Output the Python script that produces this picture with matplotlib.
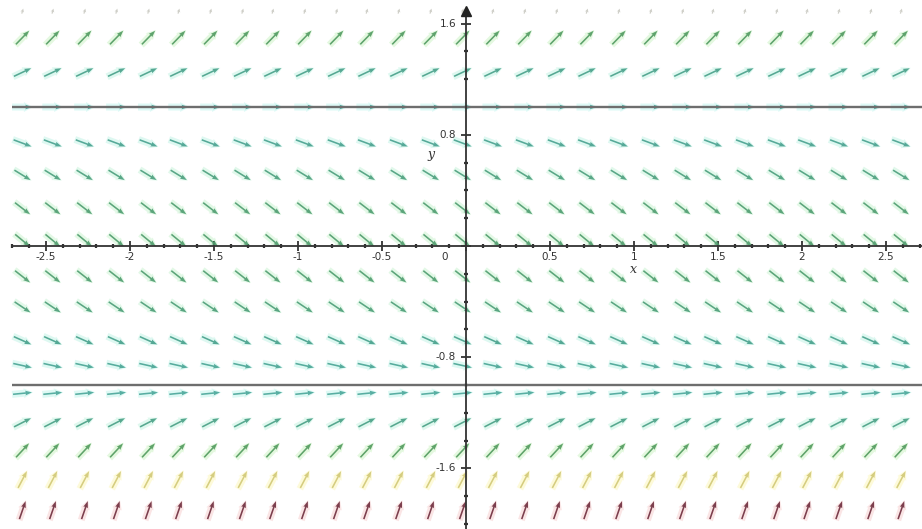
import numpy as np
import matplotlib.pyplot as plt
from matplotlib.colors import LinearSegmentedColormap

# slope field: arrow columns (x), arrow rows (y) and the slope read for each row
col_x = [-2.64, -2.46, -2.27, -2.08, -1.89, -1.71, -1.52, -1.33, -1.15, -0.96,
         -0.77, -0.59, -0.40, -0.21, -0.02, 0.16, 0.35, 0.54, 0.72, 0.91,
         1.10, 1.29, 1.47, 1.66, 1.85, 2.03, 2.22, 2.41, 2.59]
row_y = [1.50, 1.25, 1.00, 0.74, 0.51, 0.27, 0.04, -0.22, -0.44, -0.68,
         -0.86, -1.06, -1.27, -1.47, -1.68, -1.90]
row_slope = [1.24, 0.57, 0.0, -0.45, -0.74, -0.93, -1.0, -0.95, -0.81, -0.54,
             -0.27, 0.12, 0.62, 1.3, 2.3, 3.5]
top_row_y = 1.69  # clipped row at the top edge, only the heads show

# equilibrium solutions
eq_y = [1.0, -1.0]

x_ticks = [-2.5, -2, -1.5, -1, -0.5, 0.5, 1, 1.5, 2, 2.5]
x_tick_labels = ["-2.5", "-2", "-1.5", "-1", "-0.5", "0.5", "1", "1.5", "2", "2.5"]
y_ticks = [1.6, 0.8, -0.8, -1.6]
y_tick_labels = ["1.6", "0.8", "-0.8", "-1.6"]

xmin, xmax = -2.774, 2.714
ymin, ymax = -2.036, 1.770

fig = plt.figure(figsize=(9.22, 5.29), dpi=100)
ax = fig.add_axes([0, 0, 1, 1])
ax.set_xlim(xmin, xmax)
ax.set_ylim(ymin, ymax)

# pixels per data unit, so arrows get the right on-screen angle
kx = 922 / (xmax - xmin)
ky = 529 / (ymax - ymin)

X, Y = np.meshgrid(col_x, row_y)
S = np.repeat(np.array(row_slope)[:, None], len(col_x), axis=1)
theta = np.arctan(S * ky / kx)
U = np.cos(theta)
V = np.sin(theta)
mag = np.clip(np.abs(S) / 3.5, 0, 1)

core_cmap = LinearSegmentedColormap.from_list("core", [
    (0.0, "#4aa89c"), (0.15, "#46a08c"), (0.25, "#4c9c72"),
    (0.35, "#509a60"), (0.45, "#559a52"), (0.65, "#d4cc78"), (1.0, "#6e2c3c")])
halo_cmap = LinearSegmentedColormap.from_list("halo", [
    (0.0, "#c8f6f0"), (0.15, "#c8f4e8"), (0.25, "#d0f4d8"),
    (0.35, "#d2f4cc"), (0.45, "#d4f4c4"), (0.65, "#fcf8c0"), (1.0, "#f8d4d4")])

# soft halo behind each arrow, then the arrow itself
ax.quiver(X, Y, U, V, mag, cmap=halo_cmap, clim=(0, 1), angles="uv",
          scale_units="dots", scale=1 / 21, pivot="middle", units="dots",
          width=7, headwidth=1.4, headlength=1.3, headaxislength=1.3,
          alpha=0.6, zorder=1)
ax.quiver(X, Y, U, V, mag, cmap=core_cmap, clim=(0, 1), angles="uv",
          scale_units="dots", scale=1 / 19, pivot="middle", units="dots",
          width=1.6, headwidth=3.0, headlength=4.2, headaxislength=3.8,
          alpha=0.9, zorder=2)

# top row: only small heads visible
ax.quiver(col_x, [top_row_y] * len(col_x), [0.3] * len(col_x), [1] * len(col_x),
          angles="uv", scale_units="dots", scale=1 / 5, pivot="middle",
          units="dots", width=1.2, headwidth=3, headlength=3,
          headaxislength=2.5, color="#cfcfc8", zorder=2)

# equilibrium lines
ax.hlines(eq_y, -2.70, xmax, colors="#6e6e6e", linewidth=1.7, zorder=3)

# axes through the origin
for side in ["top", "right"]:
    ax.spines[side].set_visible(False)
ax.spines["left"].set_position(("data", 0))
ax.spines["bottom"].set_position(("data", 0))
ax.spines["bottom"].set_bounds(-2.70, xmax)
ax.spines["left"].set_bounds(ymin, 1.66)
for side in ["left", "bottom"]:
    ax.spines[side].set_color("#333333")
    ax.spines[side].set_linewidth(1.3)
    ax.spines[side].set_zorder(4)
ax.plot([0], [1.69], marker="^", markersize=7, color="#222222", zorder=5,
        clip_on=False)

ax.set_xticks(x_ticks + [0])
ax.set_xticks(np.arange(-2.7, 2.71, 0.1), minor=True)
ax.set_yticks(y_ticks + [0])
ax.set_yticks(np.arange(-2.0, 1.61, 0.2), minor=True)
ax.tick_params(which="major", direction="inout", length=7, width=1.3,
               color="#333333", labelbottom=False, labelleft=False)
ax.tick_params(which="minor", direction="inout", length=3, width=1.6,
               color="#333333")

lab_kw = dict(fontsize=7.5, color="#333333", family="DejaVu Sans")
for xv, lab in zip(x_ticks, x_tick_labels):
    ax.text(xv, -0.04, lab, ha="center", va="top", **lab_kw)
ax.text(-0.125, -0.04, "0", ha="center", va="top", **lab_kw)
for yv, lab in zip(y_ticks, y_tick_labels):
    ax.text(-0.06, yv, lab, ha="right", va="center", **lab_kw)

ax.text(0.995, -0.12, "x", ha="center", va="top", fontsize=9,
        style="italic", family="DejaVu Serif", color="#333333")
ax.text(-0.21, 0.66, "y", ha="center", va="center", fontsize=9,
        style="italic", family="DejaVu Serif", color="#333333")

fig.savefig("out.png", dpi=100)
